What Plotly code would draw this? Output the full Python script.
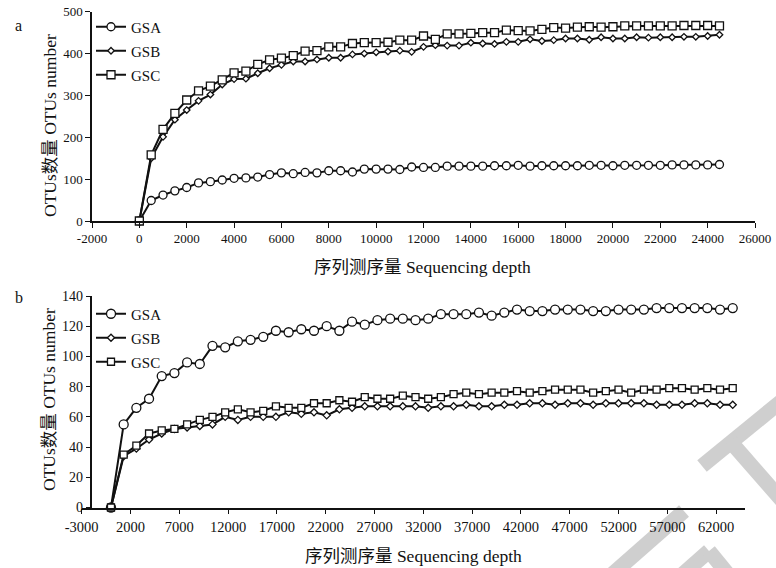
import plotly.graph_objects as go

# ---- panel a: rarefaction, 0-24500 reads ----
depth_a = [0, 500, 1000, 1500, 2000, 2500, 3000, 3500, 4000, 4500,
           5000, 5500, 6000, 6500, 7000, 7500, 8000, 8500, 9000, 9500,
           10000, 10500, 11000, 11500, 12000, 12500, 13000, 13500, 14000, 14500,
           15000, 15500, 16000, 16500, 17000, 17500, 18000, 18500, 19000, 19500,
           20000, 20500, 21000, 21500, 22000, 22500, 23000, 23500, 24000, 24500]
gsa_a = [0, 49, 62, 72, 80, 91, 94, 98, 102, 103,
         105, 111, 115, 113, 116, 115, 120, 120, 117, 124,
         124, 124, 123, 129, 128, 128, 131, 131, 131, 131,
         132, 132, 133, 131, 132, 132, 132, 132, 133, 133,
         132, 133, 133, 133, 133, 134, 134, 134, 134, 135]
gsb_a = [0, 150, 201, 242, 265, 287, 302, 326, 339, 340,
         353, 365, 373, 381, 381, 386, 390, 390, 398, 400,
         403, 405, 407, 404, 416, 420, 419, 419, 426, 424,
         423, 428, 428, 434, 430, 432, 436, 436, 433, 439,
         436, 436, 439, 438, 439, 439, 440, 440, 442, 445]
gsc_a = [0, 158, 219, 257, 289, 311, 322, 337, 354, 358,
         374, 385, 389, 395, 406, 407, 416, 416, 424, 426,
         426, 427, 432, 432, 442, 434, 447, 447, 448, 450,
         450, 456, 455, 454, 458, 462, 461, 463, 464, 463,
         464, 466, 466, 466, 466, 466, 467, 467, 467, 466]

# ---- panel b: rarefaction, 0-63700 reads ----
depth_b = [0, 1300, 2600, 3900, 5200, 6500, 7800, 9100, 10400, 11700,
           13000, 14300, 15600, 16900, 18200, 19500, 20800, 22100, 23400, 24700,
           26000, 27300, 28600, 29900, 31200, 32500, 33800, 35100, 36400, 37700,
           39000, 40300, 41600, 42900, 44200, 45500, 46800, 48100, 49400, 50700,
           52000, 53300, 54600, 55900, 57200, 58500, 59800, 61100, 62400, 63700]
gsa_b = [0, 55, 66, 72, 87, 89, 96, 95, 107, 106,
         110, 111, 113, 117, 116, 118, 117, 120, 117, 123,
         121, 124, 125, 125, 124, 125, 128, 128, 128, 129,
         127, 129, 131, 130, 130, 131, 131, 131, 130, 130,
         131, 131, 131, 132, 132, 132, 132, 132, 131, 132]
gsb_b = [0, 34, 39, 45, 49, 52, 53, 54, 55, 60,
         58, 60, 60, 60, 63, 62, 63, 61, 65, 66,
         67, 67, 67, 67, 67, 66, 67, 67, 68, 67,
         67, 68, 68, 69, 69, 68, 69, 69, 68, 69,
         69, 69, 69, 68, 68, 68, 69, 69, 68, 68]
gsc_b = [0, 35, 41, 49, 51, 52, 55, 58, 60, 63,
         65, 63, 64, 67, 66, 66, 69, 69, 71, 70,
         73, 72, 72, 74, 73, 72, 73, 75, 76, 75,
         76, 76, 77, 76, 77, 78, 78, 78, 76, 77,
         78, 76, 78, 78, 79, 79, 78, 79, 78, 79]

series_names = ["GSA", "GSB", "GSC"]
ticks_a_x = [-2000, 0, 2000, 4000, 6000, 8000, 10000, 12000, 14000,
             16000, 18000, 20000, 22000, 24000, 26000]
ticks_b_x = [-3000, 2000, 7000, 12000, 17000, 22000, 27000, 32000,
             37000, 42000, 47000, 52000, 57000, 62000]
ticks_a_y = [0, 100, 200, 300, 400, 500]
ticks_b_y = [0, 20, 40, 60, 80, 100, 120, 140]

CJK = "Noto Sans CJK SC"
x_title = f"<span style='font-family:{CJK}'>序列测序量</span> Sequencing depth"
y_title = f"OTUs<span style='font-family:{CJK}'>数量</span> OTUs number"

W, H = 776, 568
SERIF = "Liberation Serif, Times New Roman, Noto Sans CJK SC, serif"
INK = "#111111"


def px_x(p):
    return p / W


def px_y(p):
    return 1 - p / H


def plain_labels(vals):
    # ASCII hyphen for negatives, no thousands separator
    return [str(v) for v in vals]


fig = go.Figure()

symbols = {"GSA": "circle", "GSB": "diamond", "GSC": "square"}
sizes_a = {"GSA": 8, "GSB": 5, "GSC": 8}
sizes_b = {"GSA": 9, "GSB": 5.5, "GSC": 7}

for name, ys in zip(series_names, [gsa_a, gsb_a, gsc_a]):
    fig.add_trace(go.Scatter(
        x=depth_a, y=ys, name=name, mode="lines+markers",
        xaxis="x", yaxis="y", legend="legend", legendgroup="a" + name,
        cliponaxis=False,
        line=dict(color=INK, width=2),
        marker=dict(symbol=symbols[name], size=sizes_a[name], color="white",
                    line=dict(color=INK, width=1.3)),
    ))

for name, ys in zip(series_names, [gsa_b, gsb_b, gsc_b]):
    fig.add_trace(go.Scatter(
        x=depth_b, y=ys, name=name, mode="lines+markers",
        xaxis="x2", yaxis="y2", legend="legend2", legendgroup="b" + name,
        cliponaxis=False,
        line=dict(color=INK, width=2),
        marker=dict(symbol=symbols[name], size=sizes_b[name], color="white",
                    line=dict(color=INK, width=1.3)),
    ))

axis_common = dict(
    showgrid=False, zeroline=False, showline=True, linecolor=INK, linewidth=1.5,
    ticks="outside", ticklen=5, tickwidth=1.3, tickcolor=INK,
    tickfont=dict(family=SERIF, size=13, color=INK),
)

# panel a axes
xa_l, xa_r = 92, 755
ya_t, ya_b = 11.7, 221
fig.update_layout(
    xaxis=dict(axis_common, domain=[px_x(xa_l), px_x(xa_r)], range=[-2000, 26000],
               tickvals=ticks_a_x, ticktext=plain_labels(ticks_a_x), anchor="y"),
    yaxis=dict(axis_common, domain=[px_y(ya_b), px_y(ya_t)], range=[0, 500],
               tickvals=ticks_a_y, ticktext=plain_labels(ticks_a_y), anchor="x"),
)

# panel b axes (vertical axis crosses at -2000)
xb_l, xb_r = 81.7, 745.4
yb_t, yb_b = 296, 507.5
yaxis_pos = xb_l + (xb_r - xb_l) * (1000 / 68000)
fig.update_layout(
    xaxis2=dict(axis_common, domain=[px_x(xb_l), px_x(xb_r)], range=[-3000, 65000],
                tickvals=ticks_b_x, ticktext=plain_labels(ticks_b_x), anchor="y2",
                tickfont=dict(family=SERIF, size=14.5, color=INK)),
    yaxis2=dict(axis_common, domain=[px_y(yb_b), px_y(yb_t)], range=[0, 140],
                tickvals=ticks_b_y, ticktext=plain_labels(ticks_b_y),
                anchor="free", position=px_x(yaxis_pos),
                tickfont=dict(family=SERIF, size=14, color=INK)),
)

legend_common = dict(
    xanchor="left", yanchor="top", bgcolor="rgba(0,0,0,0)",
    font=dict(family=SERIF, size=15, color=INK), itemwidth=30,
    traceorder="grouped", tracegroupgap=1.5,
)
fig.update_layout(
    legend=dict(legend_common, x=px_x(91), y=px_y(10.5)),
    legend2=dict(legend_common, x=px_x(91), y=px_y(297.5)),
    showlegend=True,
)

annotations = [
    dict(text=x_title, x=px_x(423), y=px_y(266)),
    dict(text=x_title, x=px_x(413), y=px_y(554)),
    dict(text=y_title, x=px_x(48), y=px_y(126), textangle=-90),
    dict(text=y_title, x=px_x(47), y=px_y(400), textangle=-90),
]
for a in annotations:
    fig.add_annotation(xref="paper", yref="paper", showarrow=False,
                       xanchor="center", yanchor="middle",
                       font=dict(family=SERIF, size=17.5, color=INK), **a)

# panel letters
fig.add_annotation(text="a", xref="paper", yref="paper", x=px_x(13), y=px_y(15),
                   showarrow=False, font=dict(family=SERIF, size=16, color=INK))
fig.add_annotation(text="b", xref="paper", yref="paper", x=px_x(13), y=px_y(297),
                   showarrow=False, font=dict(family=SERIF, size=16, color=INK))

# light grey diagonal strokes in the lower-right corner
strokes = [
    ((800, 386), (702, 466)),
    ((730, 441), (800, 521)),
    ((684, 511), (600, 585)),
    ((709, 551), (650, 603)),
    ((709, 551), (745, 595)),
]
for (x0, y0), (x1, y1) in strokes:
    fig.add_shape(type="line", xref="paper", yref="paper", layer="below",
                  x0=px_x(x0), y0=px_y(y0), x1=px_x(x1), y1=px_y(y1),
                  line=dict(color="#cfcfcf", width=15))

fig.update_layout(
    width=W, height=H,
    margin=dict(l=0, r=0, t=0, b=0, pad=0, autoexpand=False),
    paper_bgcolor="white", plot_bgcolor="rgba(0,0,0,0)",
)

fig.write_html("out.html")
